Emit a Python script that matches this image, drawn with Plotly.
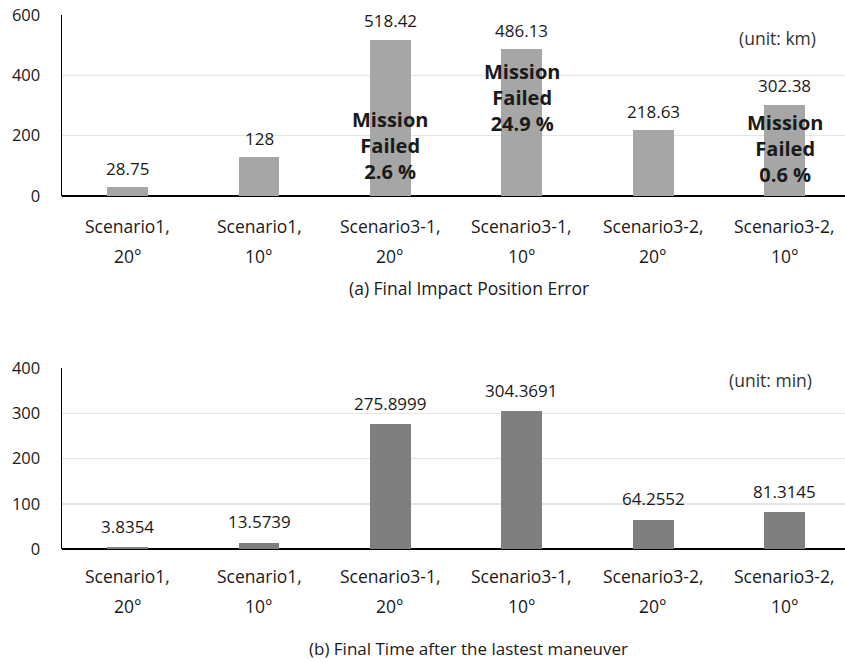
import plotly.graph_objects as go

# ---- data ----
scenarios = ["Scenario1,", "Scenario1,", "Scenario3-1,", "Scenario3-1,", "Scenario3-2,", "Scenario3-2,"]
angles = ["20°", "10°", "20°", "10°", "20°", "10°"]
impact_error_km = [28.75, 128, 518.42, 486.13, 218.63, 302.38]
impact_labels = ["28.75", "128", "518.42", "486.13", "218.63", "302.38"]
final_time_min = [3.8354, 13.5739, 275.8999, 304.3691, 64.2552, 81.3145]
time_labels = ["3.8354", "13.5739", "275.8999", "304.3691", "64.2552", "81.3145"]
fail_idx = [2, 3, 5]
fail_rates = ["2.6 %", "24.9 %", "0.6 %"]
fail_label_y = [169, 328, 159]
top_ticks = [0, 200, 400, 600]
bottom_ticks = [0, 100, 200, 300, 400]
caption_a = "(a) Final Impact Position Error"
caption_b = "(b) Final Time after the lastest maneuver"

FONT = "Open Sans"
TXT = "#1a1a1a"
W, H = 845, 662
xpos = list(range(len(scenarios)))

def py(pix):
    return 1 - pix / H

def px(pix):
    return (pix - 62) / 131.5 - 0.5

fig = go.Figure()
fig.add_trace(go.Bar(x=xpos, y=impact_error_km, width=0.31, marker=dict(color="#a6a6a6", line=dict(width=0)),
                     xaxis="x", yaxis="y", showlegend=False, hoverinfo="skip"))
fig.add_trace(go.Bar(x=xpos, y=final_time_min, width=0.31, marker=dict(color="#7f7f7f", line=dict(width=0)),
                     xaxis="x2", yaxis="y2", showlegend=False, hoverinfo="skip"))

ann = []
for i, (v, t) in enumerate(zip(impact_error_km, impact_labels)):
    ann.append(dict(x=i, y=v, xref="x", yref="y", text=t, showarrow=False, yanchor="middle", yshift=19,
                    font=dict(family=FONT, size=17, color=TXT)))
for i, (v, t) in enumerate(zip(final_time_min, time_labels)):
    ann.append(dict(x=i, y=v, xref="x2", yref="y2", text=t, showarrow=False, yanchor="middle", yshift=21,
                    font=dict(family=FONT, size=17, color=TXT)))
for i, r, yv in zip(fail_idx, fail_rates, fail_label_y):
    ann.append(dict(x=i, y=yv, xref="x", yref="y", text="<b>Mission<br>Failed<br>" + r + "</b>", showarrow=False,
                    yanchor="middle", font=dict(family=FONT, size=20, color="#1a1a1a")))

# category labels (two lines each)
for i, (s, a) in enumerate(zip(scenarios, angles)):
    for xr, y1, y2 in (("x", 226, 256), ("x2", 576, 606)):
        ann.append(dict(x=i, y=py(y1), xref=xr, yref="paper", text=s, showarrow=False, yanchor="middle",
                        font=dict(family=FONT, size=17.5, color=TXT)))
        ann.append(dict(x=i, y=py(y2), xref=xr, yref="paper", text=a, showarrow=False, yanchor="middle",
                        font=dict(family=FONT, size=17.5, color=TXT)))

ann.append(dict(x=px(778), y=py(38), xref="x", yref="paper", text="(unit: km)", showarrow=False,
                yanchor="middle", font=dict(family=FONT, size=17.5, color="#333333")))
ann.append(dict(x=px(771), y=py(380), xref="x2", yref="paper", text="(unit: min)", showarrow=False,
                yanchor="middle", font=dict(family=FONT, size=17.5, color="#333333")))
ann.append(dict(x=px(469), y=py(288), xref="x", yref="paper", text=caption_a, showarrow=False,
                yanchor="middle", font=dict(family=FONT, size=17.5, color=TXT)))
ann.append(dict(x=px(469), y=py(648), xref="x2", yref="paper", text=caption_b, showarrow=False,
                yanchor="middle", font=dict(family=FONT, size=17, color=TXT)))

xcommon = dict(range=[-0.5, 5.46], showticklabels=False, showgrid=False, zeroline=False,
               showline=False, ticks="", fixedrange=True, automargin=False)
ycommon = dict(showgrid=True, gridcolor="#e6e6e6", gridwidth=1.5, zeroline=True, zerolinecolor="#000000",
               zerolinewidth=1.5, showline=True, linecolor="#000000", linewidth=1.5,
               ticks="outside", ticklen=17, tickcolor="rgba(0,0,0,0)", automargin=False,
               fixedrange=True, tickfont=dict(family=FONT, size=16.5, color=TXT))

fig.update_layout(
    width=W, height=H,
    margin=dict(l=62, r=0, t=0, b=0, autoexpand=False),
    paper_bgcolor="white", plot_bgcolor="white",
    xaxis=dict(domain=[0, 1], anchor="y", **xcommon),
    xaxis2=dict(domain=[0, 1], anchor="y2", **xcommon),
    yaxis=dict(domain=[py(196), py(15)], anchor="x", range=[0, 600], tickvals=top_ticks, **ycommon),
    yaxis2=dict(domain=[py(549), py(368)], anchor="x2", range=[0, 400], tickvals=bottom_ticks, **ycommon),
    annotations=ann,
    bargap=0,
    hovermode=False,
)

fig.write_html("out.html", config={"displayModeBar": False, "staticPlot": True},
               post_script="document.body.style.margin='0px';")
